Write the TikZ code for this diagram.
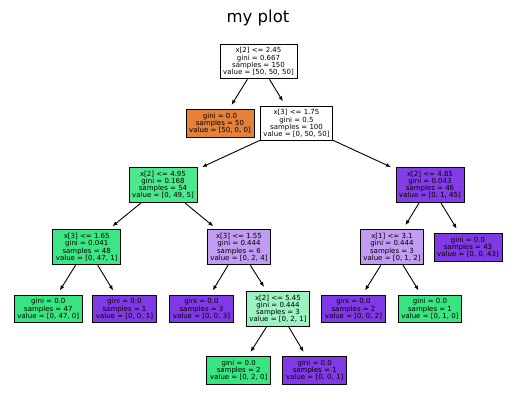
\documentclass[tikz,border=0pt]{standalone}
\usepackage{fontspec}
\setmainfont{DejaVu Sans}
\usetikzlibrary{arrows.meta}
\definecolor{corange}{RGB}{229,129,57}
\definecolor{cgreen}{RGB}{57,229,129}
\definecolor{cpurple}{RGB}{129,57,229}
\definecolor{cgreenA}{RGB}{77,232,142}
\definecolor{cgreenB}{RGB}{61,230,132}
\definecolor{clav}{RGB}{192,156,242}
\definecolor{clgreen}{RGB}{156,242,192}
\definecolor{cpurpleB}{RGB}{132,61,230}
\tikzset{
  tnode/.style={draw=black, line width=0.9pt, align=center, inner xsep=3.2pt, inner ysep=3.5pt,
    font=\fontsize{7}{7.2}\selectfont, text=black},
  arr/.style={line width=0.9pt, -{Latex[length=5pt,width=4pt]}, shorten >=5pt},
}
\begin{document}
\begin{tikzpicture}[x=1pt,y=-1pt]
\useasboundingbox (0,0) rectangle (515,411);
\node[anchor=base, font=\fontsize{16.5}{19}\selectfont, text=black] (title) at (258,23) {my plot};
\node[tnode, fill=white] (n0) at (258.5,61.5) {x[2] <= 2.45\\gini = 0.667\\samples = 150\\value = [50, 50, 50]};
\node[tnode, fill=corange] (n1) at (220,123.5) {gini = 0.0\\samples = 50\\value = [50, 0, 0]};
\node[tnode, fill=white] (n2) at (296.5,123.5) {x[3] <= 1.75\\gini = 0.5\\samples = 100\\value = [0, 50, 50]};
\node[tnode, fill=cgreenA] (n3) at (163,185) {x[2] <= 4.95\\gini = 0.168\\samples = 54\\value = [0, 49, 5]};
\node[tnode, fill=cpurpleB] (n4) at (430,185) {x[2] <= 4.85\\gini = 0.043\\samples = 46\\value = [0, 1, 45]};
\node[tnode, fill=cgreenB] (n5) at (86.7,247.3) {x[3] <= 1.65\\gini = 0.041\\samples = 48\\value = [0, 47, 1]};
\node[tnode, fill=clav] (n6) at (239,247.3) {x[3] <= 1.55\\gini = 0.444\\samples = 6\\value = [0, 2, 4]};
\node[tnode, fill=clav] (n7) at (392,247.3) {x[1] <= 3.1\\gini = 0.444\\samples = 3\\value = [0, 1, 2]};
\node[tnode, fill=cpurple] (n8) at (468,247.3) {gini = 0.0\\samples = 43\\value = [0, 0, 43]};
\node[tnode, fill=cgreen] (n9) at (48.3,309) {gini = 0.0\\samples = 47\\value = [0, 47, 0]};
\node[tnode, fill=cpurple] (n10) at (124.5,309) {gini = 0.0\\samples = 1\\value = [0, 0, 1]};
\node[tnode, fill=cpurple] (n11) at (201.5,309) {gini = 0.0\\samples = 3\\value = [0, 0, 3]};
\node[tnode, fill=clgreen] (n12) at (278,309) {x[2] <= 5.45\\gini = 0.444\\samples = 3\\value = [0, 2, 1]};
\node[tnode, fill=cpurple] (n13) at (353.5,309) {gini = 0.0\\samples = 2\\value = [0, 0, 2]};
\node[tnode, fill=cgreen] (n14) at (430,309) {gini = 0.0\\samples = 1\\value = [0, 1, 0]};
\node[tnode, fill=cgreen] (n15) at (238.7,370.5) {gini = 0.0\\samples = 2\\value = [0, 2, 0]};
\node[tnode, fill=cpurple] (n16) at (314.7,370.5) {gini = 0.0\\samples = 1\\value = [0, 0, 1]};
\draw[arr] (n0) -- (n1);
\draw[arr] (n0) -- (n2);
\draw[arr] (n2) -- (n3);
\draw[arr] (n2) -- (n4);
\draw[arr] (n3) -- (n5);
\draw[arr] (n3) -- (n6);
\draw[arr] (n4) -- (n7);
\draw[arr] (n4) -- (n8);
\draw[arr] (n5) -- (n9);
\draw[arr] (n5) -- (n10);
\draw[arr] (n6) -- (n11);
\draw[arr] (n6) -- (n12);
\draw[arr] (n7) -- (n13);
\draw[arr] (n7) -- (n14);
\draw[arr] (n12) -- (n15);
\draw[arr] (n12) -- (n16);
\end{tikzpicture}
\end{document}
